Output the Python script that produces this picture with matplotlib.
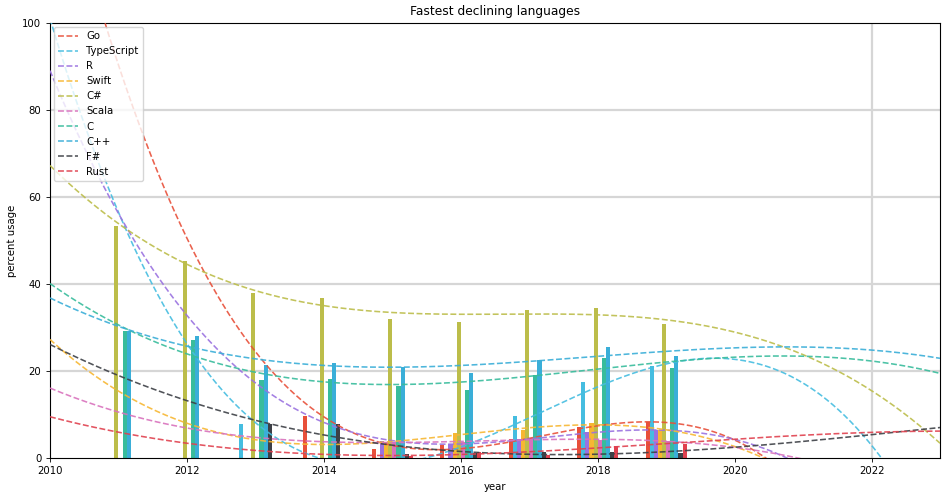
import numpy as np
import matplotlib.pyplot as plt

nan = np.nan
years = [2011, 2012, 2013, 2014, 2015, 2016, 2017, 2018, 2019]
languages = ["Go", "TypeScript", "R", "Swift", "C#", "Scala", "C", "C++", "F#", "Rust"]
colors = ["#e8503a", "#45bde0", "#9a72e0", "#f7b733", "#bcbd4a",
          "#d972bd", "#38bc9c", "#3aaed8", "#3d4046", "#e0414f"]

# percent usage per year (nan = not in that survey)
go = [nan, nan, nan, 9.7, 2.1, 3.0, 4.4, 7.1, 8.3]
typescript = [nan, nan, 7.8, 0, 0, 0, 9.7, 17.5, 21.1]
r = [nan, nan, nan, nan, 4.0, 3.2, 4.4, 5.9, 6.4]
swift = [nan, nan, nan, nan, 3.7, 5.75, 6.4, 8.0, 6.4]
csharp = [53.4, 45.3, 38.0, 36.8, 32.0, 31.3, 34.1, 34.5, 30.8]
scala = [nan, nan, nan, nan, 3.6, 3.6, 4.5, 4.1, 3.9]
c = [29.2, 27.1, 17.9, 18.2, 16.6, 15.6, 19.1, 23.0, 20.7]
cpp = [29.2, 28.1, 21.4, 21.8, 20.9, 19.5, 22.5, 25.5, 23.4]
fsharp = [nan, nan, 7.8, 7.9, 0.9, 1.1, 1.4, 1.4, 1.1]
rust = [nan, nan, nan, nan, 0.45, 1.3, 0.7, 2.8, 3.2]

series = [go, typescript, r, swift, csharp, scala, c, cpp, fsharp, rust]

fig, ax = plt.subplots(figsize=(9.5, 4.96), dpi=100)
fig.subplots_adjust(left=0.0526, right=0.9895, top=0.9536, bottom=0.0766)

yrs = np.array(years, dtype=float)
xs = np.linspace(2010, 2023, 300)
width = 0.06
n = len(languages)

for i, (name, vals, col) in enumerate(zip(languages, series, colors)):
    vals = np.array(vals, dtype=float)
    ax.bar(yrs + (i - (n - 1) / 2) * width, np.nan_to_num(vals), width=width,
           color=col, zorder=2)
    # cubic trend over the surveyed years
    mask = ~np.isnan(vals)
    coef = np.polyfit(yrs[mask], vals[mask], 3)
    ax.plot(xs, np.polyval(coef, xs), "--", color=col, alpha=0.9, lw=1.15,
            label=name, zorder=3)

ax.set_xlim(2010, 2023)
ax.set_ylim(0, 100)
ax.set_xticks([2010, 2012, 2014, 2016, 2018, 2020, 2022])
ax.set_yticks([0, 20, 40, 60, 80, 100])
for yv in [20, 40, 60, 80]:
    ax.axhline(yv, color="#d6d6d6", lw=1.6, zorder=1)
ax.axvline(2022, color="#d6d6d6", lw=1.6, zorder=1)

ax.set_title("Fastest declining languages", fontsize=8.8)
ax.set_xlabel("year", fontsize=7.3)
ax.set_ylabel("percent usage", fontsize=7.3)
ax.tick_params(labelsize=7.3, width=0.6, length=2.6)
for s in ax.spines.values():
    s.set_linewidth(0.8)
ax.legend(loc="upper left", fontsize=7.3, framealpha=0.8, borderaxespad=0.4)

plt.savefig("out.png")
